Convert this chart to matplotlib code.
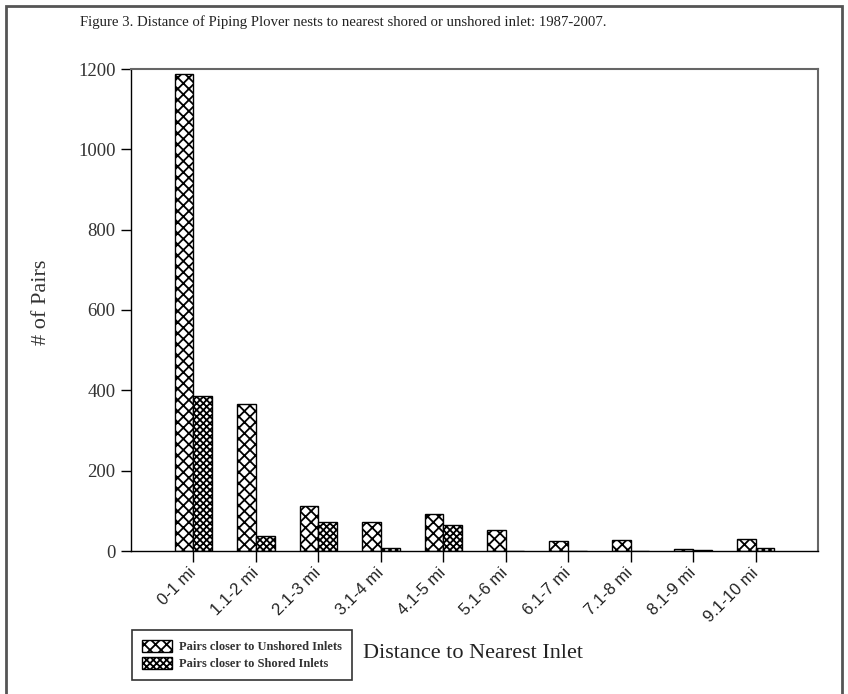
import matplotlib
matplotlib.use("Agg")
import matplotlib.pyplot as plt
import numpy as np
from matplotlib.patches import Rectangle

categories = ["0-1 mi", "1.1-2 mi", "2.1-3 mi", "3.1-4 mi", "4.1-5 mi",
              "5.1-6 mi", "6.1-7 mi", "7.1-8 mi", "8.1-9 mi", "9.1-10 mi"]
unshored = [1187, 366, 112, 72, 92, 52, 25, 27, 4, 30]
shored = [386, 37, 72, 7, 65, 0, 0, 0, 3, 7]
yticks = [0, 200, 400, 600, 800, 1000, 1200]

plt.rcParams['hatch.linewidth'] = 1.3
serif = 'Liberation Serif'
sans = 'Liberation Sans'

W, H = 848, 694
fig = plt.figure(figsize=(W / 100, H / 100), dpi=100)
ax = fig.add_axes([131 / W, 1 - 551 / H, (818 - 131) / W, (551 - 69) / H])

x = np.arange(len(categories))
bw = 0.3
b1 = ax.bar(x - bw / 2, unshored, bw, facecolor='white', edgecolor='black',
            hatch='xxx', linewidth=1, label='Pairs closer to Unshored Inlets')
b2 = ax.bar(x + bw / 2, shored, bw, facecolor='white', edgecolor='black',
            hatch='xxxxx', linewidth=1, label='Pairs closer to Shored Inlets')

ax.set_xlim(-1, 10)
ax.set_ylim(0, 1200)
ax.set_yticks(yticks)
ax.set_yticklabels([str(t) for t in yticks], family=serif, fontsize=13.5, color='#333')
ax.set_xticks(x)
ax.set_xticklabels(categories, family=sans, fontsize=12, rotation=45,
                   ha='right', va='center', rotation_mode='anchor', color='#222')
ax.tick_params(axis='x', direction='out', length=8, width=1, pad=6)
ax.tick_params(axis='y', direction='out', length=7, width=1, pad=4)
for s in ['top', 'right']:
    ax.spines[s].set_color('#666')
    ax.spines[s].set_linewidth(1.5)
for s in ['left', 'bottom']:
    ax.spines[s].set_color('black')
    ax.spines[s].set_linewidth(1)

fig.text(42 / W, 1 - 302 / H, '# of Pairs', family=serif, fontsize=16,
         rotation=90, ha='center', va='center', color='#333')
fig.text(363 / W, 1 - 654 / H, 'Distance to Nearest Inlet', family=serif,
         fontsize=16, ha='left', va='center', color='#222')
fig.text(80 / W, 1 - 22 / H,
         'Figure 3. Distance of Piping Plover nests to nearest shored or unshored inlet: 1987-2007.',
         family=serif, fontsize=10.6, ha='left', va='center', color='#222')

leg = fig.legend(handles=[b1, b2], loc='lower left',
                 bbox_to_anchor=(132 / W, 1 - 680 / H),
                 prop={'family': serif, 'size': 9, 'weight': 'bold'},
                 handlelength=2.4, handleheight=1.1, handletextpad=0.55,
                 labelspacing=0.3, borderpad=0.8, borderaxespad=0,
                 fancybox=False, framealpha=1)
leg.get_frame().set_edgecolor('#333')
leg.get_frame().set_linewidth(1.2)
for t in leg.get_texts():
    t.set_color('#333')

fig.patches.append(Rectangle((6 / W, -0.01), (842 - 6) / W, 1 - 6 / H + 0.01,
                             transform=fig.transFigure, fill=False,
                             edgecolor='#555', linewidth=2))

fig.savefig('out.png', dpi=100)
